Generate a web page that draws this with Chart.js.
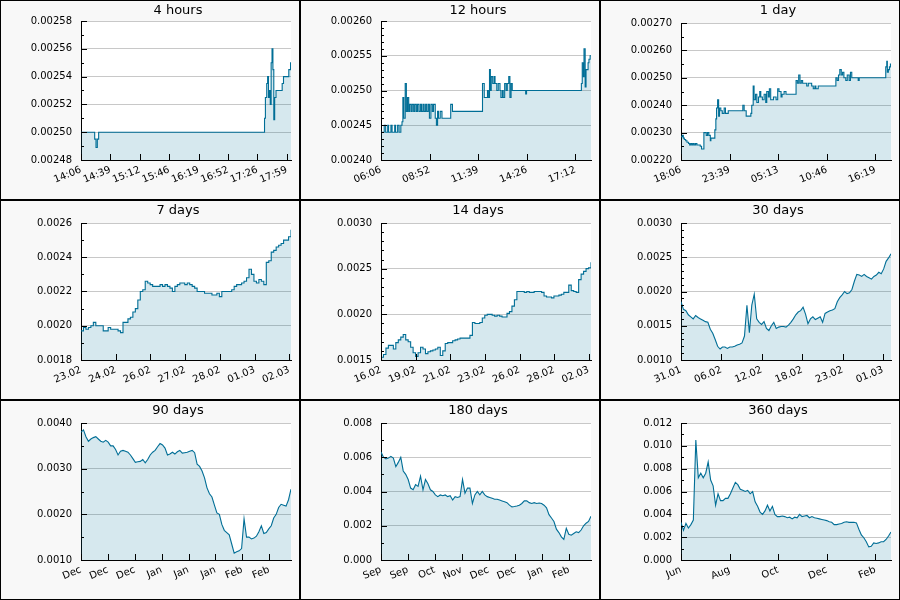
<!DOCTYPE html>
<html>
<head>
<meta charset="utf-8">
<script src="https://cdn.jsdelivr.net/npm/chart.js@4.4.1/dist/chart.umd.min.js"></script>
<style>
  body { margin: 0; background: #fff; }
  #grid { position: relative; width: 900px; height: 600px; }
  .cell { position: absolute; width: 300px; height: 200px; box-sizing: border-box; border: 1px solid #000; background: #f8f8f8; }
  .cell canvas { display: block; }
</style>
</head>
<body>
<div id="grid"></div>
<script>
// ---- 4 hours (minutes since 14:06, change points) ----
const h4Times  = [0, 15.5, 17, 18.5, 20, 208, 209, 210.5, 211.5, 212.5, 213.5, 214.5, 215.5, 216.5, 217.5, 218.5, 219.5, 221, 228, 229.5, 235.5, 237.5, 238];
const h4Values = [0.00250, 0.002495, 0.002489, 0.002495, 0.00250, 0.00251, 0.002525, 0.002535, 0.00254, 0.002525, 0.00253, 0.00252, 0.00255, 0.00256, 0.002545, 0.002509, 0.002525, 0.00253, 0.002535, 0.00254, 0.002545, 0.00255, 0.00255];
const h4XLabels = ['14:06', '14:39', '15:12', '15:46', '16:19', '16:52', '17:26', '17:59'];
const h4YLabels = ['0.00248', '0.00250', '0.00252', '0.00254', '0.00256', '0.00258'];

// ---- 12 hours (minutes since 06:06) ----
const h12Times  = [0, 11, 16, 23, 26, 34, 38, 47, 50, 57, 62, 68, 72, 75, 78, 83, 87, 91, 95, 98, 103, 107, 112, 116, 121, 125, 130, 135, 139, 144, 148, 153, 157, 162, 166, 171, 176, 180, 186, 190, 194, 197, 203, 209, 239, 245, 348, 354, 365, 368, 372, 375, 378, 383, 388, 391, 397, 402, 408, 411, 416, 419, 424, 429, 433, 438, 442, 446, 450, 496, 499, 687, 690, 694, 696, 700, 703, 707, 710, 713, 717, 720];
const h12Values = [0.00244, 0.00245, 0.00244, 0.00245, 0.00244, 0.00245, 0.00244, 0.00245, 0.00244, 0.00245, 0.00244, 0.00245, 0.002455, 0.00249, 0.00246, 0.00251, 0.00247, 0.00249, 0.00247, 0.00248, 0.00247, 0.00248, 0.00247, 0.00248, 0.00247, 0.00248, 0.00247, 0.00248, 0.00247, 0.00248, 0.00247, 0.00248, 0.00247, 0.00248, 0.00246, 0.00248, 0.00247, 0.00248, 0.00246, 0.00245, 0.00247, 0.00246, 0.00247, 0.00246, 0.00248, 0.00247, 0.00251, 0.00249, 0.00250, 0.00249, 0.00253, 0.00250, 0.00252, 0.00251, 0.00252, 0.00251, 0.00250, 0.00251, 0.00250, 0.00249, 0.00250, 0.00249, 0.00251, 0.00250, 0.00251, 0.00252, 0.00249, 0.00251, 0.00250, 0.002495, 0.00250, 0.00251, 0.00254, 0.00252, 0.00256, 0.002505, 0.00253, 0.00253, 0.00254, 0.002545, 0.00255, 0.00255];
const h12XLabels = ['06:06', '08:52', '11:39', '14:26', '17:12'];
const h12YLabels = ['0.00240', '0.00245', '0.00250', '0.00255', '0.00260'];

// ---- 1 day (minutes since 18:06) ----
const d1Times  = [0, 9, 16, 23, 32, 41, 52, 59, 67, 75, 83, 91, 100, 109, 132, 141, 157, 173, 182, 191, 201, 205, 232, 239, 244, 251, 258, 264, 273, 283, 296, 305, 324, 424, 433, 447, 479, 485, 495, 501, 511, 520, 531, 540, 547, 558, 570, 581, 588, 599, 606, 615, 634, 652, 663, 672, 686, 693, 707, 720, 789, 798, 807, 816, 825, 834, 862, 873, 896, 907, 918, 925, 941, 1062, 1071, 1080, 1089, 1099, 1108, 1117, 1130, 1140, 1153, 1162, 1171, 1215, 1222, 1404, 1411, 1415, 1422, 1429, 1436, 1440];
const d1Values = [0.002285, 0.00229, 0.00228, 0.002275, 0.00227, 0.002265, 0.00226, 0.002255, 0.00226, 0.002255, 0.00226, 0.002255, 0.00226, 0.002255, 0.00225, 0.00224, 0.00230, 0.00229, 0.00230, 0.00229, 0.00227, 0.00228, 0.00231, 0.00235, 0.00239, 0.00242, 0.00236, 0.00239, 0.00238, 0.00237, 0.00239, 0.00237, 0.00238, 0.00240, 0.00238, 0.00236, 0.00237, 0.00240, 0.00247, 0.00242, 0.00244, 0.00241, 0.00243, 0.00245, 0.00243, 0.00242, 0.00244, 0.00241, 0.00245, 0.00243, 0.00246, 0.00242, 0.00243, 0.00242, 0.00246, 0.00245, 0.00243, 0.00244, 0.00245, 0.00244, 0.00249, 0.00248, 0.00251, 0.00248, 0.00249, 0.00248, 0.00247, 0.00248, 0.00247, 0.00246, 0.00247, 0.00246, 0.00247, 0.00250, 0.00249, 0.00251, 0.00253, 0.00251, 0.00252, 0.00250, 0.00249, 0.00251, 0.00249, 0.00252, 0.00250, 0.00249, 0.00250, 0.00254, 0.00256, 0.00252, 0.00253, 0.00254, 0.00255, 0.00255];
const d1XLabels = ['18:06', '23:39', '05:13', '10:46', '16:19'];
const d1YLabels = ['0.00220', '0.00230', '0.00240', '0.00250', '0.00260', '0.00270'];

// ---- 7 days (evenly spaced samples) ----
const d7Values = [0.00197, 0.00199, 0.00198, 0.00199, 0.00200, 0.00202, 0.00200, 0.00200, 0.00200, 0.00197, 0.00197, 0.00199, 0.00198, 0.00198, 0.00198, 0.00197, 0.00196, 0.00202, 0.00202, 0.00204, 0.00205, 0.00208, 0.00210, 0.00215, 0.00220, 0.00221, 0.00226, 0.00225, 0.00224, 0.00223, 0.00223, 0.00223, 0.00224, 0.00223, 0.00224, 0.00223, 0.00222, 0.00220, 0.00223, 0.00224, 0.00225, 0.00225, 0.00224, 0.00225, 0.00224, 0.00223, 0.00222, 0.00220, 0.00220, 0.00220, 0.00219, 0.00219, 0.00219, 0.00218, 0.00218, 0.00219, 0.00217, 0.00220, 0.00220, 0.00220, 0.00220, 0.00221, 0.00223, 0.00224, 0.00224, 0.00225, 0.00226, 0.00228, 0.00233, 0.00230, 0.00226, 0.00225, 0.00227, 0.00226, 0.00224, 0.00237, 0.00238, 0.00243, 0.00244, 0.00246, 0.00247, 0.00248, 0.00250, 0.00250, 0.00252, 0.00256];
const d7XLabels = ['23.02', '24.02', '26.02', '27.02', '28.02', '01.03', '02.03'];
const d7YLabels = ['0.0018', '0.0020', '0.0022', '0.0024', '0.0026'];

// ---- 14 days ----
const d14Values = [0.00153, 0.00156, 0.00163, 0.00166, 0.00166, 0.00162, 0.00169, 0.00172, 0.00175, 0.00178, 0.00172, 0.00170, 0.00164, 0.00158, 0.00154, 0.00158, 0.00164, 0.00162, 0.00157, 0.00159, 0.00160, 0.00161, 0.00162, 0.00164, 0.00155, 0.00160, 0.00168, 0.00169, 0.00169, 0.00171, 0.00172, 0.00173, 0.00174, 0.00174, 0.00174, 0.00174, 0.00177, 0.00191, 0.00190, 0.00190, 0.00191, 0.00196, 0.00199, 0.00200, 0.00200, 0.00199, 0.00198, 0.00199, 0.00198, 0.00197, 0.00197, 0.00201, 0.00203, 0.00209, 0.00216, 0.00225, 0.00225, 0.00225, 0.00224, 0.00225, 0.00224, 0.00224, 0.00225, 0.00225, 0.00225, 0.00224, 0.00220, 0.00219, 0.00219, 0.00218, 0.00220, 0.00220, 0.00221, 0.00222, 0.00224, 0.00224, 0.00232, 0.00226, 0.00225, 0.00224, 0.00238, 0.00244, 0.00247, 0.00250, 0.00251, 0.00257];
const d14XLabels = ['16.02', '19.02', '21.02', '23.02', '26.02', '28.02', '02.03'];
const d14YLabels = ['0.0015', '0.0020', '0.0025', '0.0030'];

// ---- 30 days ----
const d30Values = [0.00185, 0.00174, 0.00172, 0.00166, 0.00163, 0.00160, 0.00165, 0.00162, 0.00160, 0.00158, 0.00156, 0.00155, 0.00145, 0.00139, 0.00130, 0.00120, 0.00116, 0.00119, 0.00119, 0.00117, 0.00119, 0.00119, 0.00120, 0.00122, 0.00123, 0.00125, 0.00135, 0.00180, 0.00140, 0.00180, 0.00196, 0.00160, 0.00155, 0.00152, 0.00156, 0.00146, 0.00143, 0.00150, 0.00155, 0.00146, 0.00148, 0.00149, 0.00149, 0.00148, 0.00151, 0.00155, 0.00160, 0.00166, 0.00170, 0.00172, 0.00177, 0.00167, 0.00153, 0.00160, 0.00163, 0.00159, 0.00161, 0.00163, 0.00155, 0.00168, 0.00170, 0.00172, 0.00173, 0.00175, 0.00185, 0.00191, 0.00195, 0.00200, 0.00197, 0.00198, 0.00203, 0.00215, 0.00225, 0.00224, 0.00222, 0.00225, 0.00222, 0.00220, 0.00218, 0.00222, 0.00224, 0.00228, 0.00226, 0.00233, 0.00244, 0.00249, 0.00255];
const d30XLabels = ['31.01', '06.02', '12.02', '18.02', '23.02', '01.03'];
const d30YLabels = ['0.0010', '0.0015', '0.0020', '0.0025', '0.0030'];

// ---- 90 days ----
const d90Values = [0.00380, 0.00385, 0.00370, 0.00360, 0.00365, 0.00368, 0.00370, 0.00365, 0.00360, 0.00358, 0.00362, 0.00358, 0.00350, 0.00350, 0.00342, 0.00330, 0.00338, 0.00340, 0.00338, 0.00336, 0.00330, 0.00322, 0.00314, 0.00315, 0.00316, 0.00320, 0.00313, 0.00320, 0.00330, 0.00336, 0.00340, 0.00348, 0.00355, 0.00352, 0.00345, 0.00330, 0.00332, 0.00336, 0.00332, 0.00337, 0.00340, 0.00334, 0.00335, 0.00336, 0.00338, 0.00340, 0.00335, 0.00310, 0.00305, 0.00295, 0.00280, 0.00258, 0.00245, 0.00238, 0.00220, 0.00203, 0.00200, 0.00178, 0.00165, 0.00160, 0.00155, 0.00135, 0.00115, 0.00118, 0.00120, 0.00125, 0.00190, 0.00150, 0.00150, 0.00146, 0.00148, 0.00152, 0.00162, 0.00175, 0.00158, 0.00160, 0.00168, 0.00175, 0.00192, 0.00200, 0.00215, 0.00222, 0.00220, 0.00218, 0.00232, 0.00255];
const d90XLabels = ['Dec', 'Dec', 'Dec', 'Jan', 'Jan', 'Jan', 'Feb', 'Feb'];
const d90YLabels = ['0.0010', '0.0020', '0.0030', '0.0040'];

// ---- 180 days ----
const d180Values = [0.00630, 0.00600, 0.00590, 0.00595, 0.00605, 0.00595, 0.00545, 0.00570, 0.00600, 0.00520, 0.00500, 0.00470, 0.00420, 0.00410, 0.00440, 0.00430, 0.00490, 0.00410, 0.00470, 0.00445, 0.00410, 0.00400, 0.00380, 0.00370, 0.00380, 0.00375, 0.00380, 0.00370, 0.00375, 0.00350, 0.00370, 0.00365, 0.00370, 0.00470, 0.00390, 0.00420, 0.00420, 0.00330, 0.00380, 0.00400, 0.00380, 0.00400, 0.00380, 0.00370, 0.00365, 0.00360, 0.00355, 0.00355, 0.00350, 0.00345, 0.00340, 0.00335, 0.00320, 0.00310, 0.00312, 0.00315, 0.00320, 0.00330, 0.00345, 0.00345, 0.00335, 0.00330, 0.00335, 0.00330, 0.00333, 0.00330, 0.00320, 0.00305, 0.00265, 0.00245, 0.00225, 0.00180, 0.00160, 0.00135, 0.00120, 0.00185, 0.00150, 0.00145, 0.00155, 0.00165, 0.00160, 0.00175, 0.00200, 0.00215, 0.00225, 0.00255];
const d180XLabels = ['Sep', 'Sep', 'Oct', 'Nov', 'Dec', 'Dec', 'Jan', 'Feb'];
const d180YLabels = ['0.000', '0.002', '0.004', '0.006', '0.008'];

// ---- 360 days ----
const d360Values = [0.00330, 0.00260, 0.00320, 0.00280, 0.00310, 0.00350, 0.01050, 0.00720, 0.00760, 0.00720, 0.00760, 0.00860, 0.00700, 0.00650, 0.00480, 0.00580, 0.00520, 0.00520, 0.00540, 0.00540, 0.00580, 0.00630, 0.00680, 0.00660, 0.00620, 0.00610, 0.00600, 0.00610, 0.00580, 0.00600, 0.00510, 0.00470, 0.00420, 0.00400, 0.00430, 0.00480, 0.00430, 0.00470, 0.00400, 0.00380, 0.00380, 0.00385, 0.00380, 0.00370, 0.00375, 0.00360, 0.00375, 0.00370, 0.00400, 0.00380, 0.00385, 0.00390, 0.00370, 0.00380, 0.00370, 0.00365, 0.00360, 0.00355, 0.00350, 0.00345, 0.00335, 0.00330, 0.00310, 0.00310, 0.00315, 0.00320, 0.00330, 0.00335, 0.00330, 0.00330, 0.00330, 0.00325, 0.00270, 0.00220, 0.00195, 0.00160, 0.00115, 0.00120, 0.00150, 0.00145, 0.00150, 0.00160, 0.00160, 0.00180, 0.00210, 0.00245];
const d360XLabels = ['Jun', 'Aug', 'Oct', 'Dec', 'Feb'];
const d360YLabels = ['0.000', '0.002', '0.004', '0.006', '0.008', '0.010', '0.012'];

const LINE = 'rgb(0,110,150)';
const FILL = 'rgba(0,110,150,0.16)';
const FONT = '"DejaVu Sans", sans-serif';

function evenly(values, span) {
  return values.map((v, i) => ({ x: i * span / (values.length - 1), y: v }));
}
function paired(times, values) {
  return times.map((t, i) => ({ x: t, y: values[i] }));
}

const panels = [
  { title: '4 hours',  points: paired(h4Times, h4Values),   span: 238,  xStep: 33.333, xLabels: h4XLabels,  yLabels: h4YLabels,  minor: 0.00001, top: 20, stepped: true },
  { title: '12 hours', points: paired(h12Times, h12Values), span: 720,  xStep: 166.67, xLabels: h12XLabels, yLabels: h12YLabels, minor: 0.00001, top: 20, stepped: true },
  { title: '1 day',    points: paired(d1Times, d1Values),   span: 1440, xStep: 333.33, xLabels: d1XLabels,  yLabels: d1YLabels,  minor: 0.00005, top: 22, stepped: true },
  { title: '7 days',   points: evenly(d7Values, 168),       span: 168,  xStep: 27.77,  xLabels: d7XLabels,  yLabels: d7YLabels,  minor: 0.0001,  top: 22, stepped: true },
  { title: '14 days',  points: evenly(d14Values, 336),      span: 336,  xStep: 55.4,   xLabels: d14XLabels, yLabels: d14YLabels, minor: 0.0001,  top: 22, stepped: true },
  { title: '30 days',  points: evenly(d30Values, 720),      span: 720,  xStep: 138.5,  xLabels: d30XLabels, yLabels: d30YLabels, minor: 0.0001,  top: 22, stepped: false },
  { title: '90 days',  points: evenly(d90Values, 90),       span: 90,   xStep: 11.52,  xLabels: d90XLabels, yLabels: d90YLabels, minor: 0.0005,  top: 22, stepped: false },
  { title: '180 days', points: evenly(d180Values, 180),     span: 180,  xStep: 23.05,  xLabels: d180XLabels, yLabels: d180YLabels, minor: 0.001, top: 22, stepped: false },
  { title: '360 days', points: evenly(d360Values, 360),     span: 360,  xStep: 83.3,   xLabels: d360XLabels, yLabels: d360YLabels, minor: 0.001, top: 22, stepped: false }
];

// white plot area, inward tick marks and the panel title
const panelDecor = {
  id: 'panelDecor',
  beforeDraw(chart) {
    const { ctx, chartArea: a } = chart;
    ctx.save();
    ctx.fillStyle = '#fff';
    ctx.fillRect(a.left, a.top, a.right - a.left, a.bottom - a.top);
    ctx.restore();
  },
  afterDraw(chart, args, opts) {
    const { ctx, chartArea: a, scales: { x, y } } = chart;
    const majorEvery = Math.round((y.ticks[1].value - y.ticks[0].value) / opts.minor);
    const n = Math.round((y.max - y.min) / opts.minor);
    ctx.save();
    ctx.strokeStyle = '#000';
    ctx.lineWidth = 1;
    ctx.beginPath();
    for (let i = 0; i <= n; i++) {
      const py = Math.round(y.getPixelForValue(y.min + i * opts.minor)) + 0.5;
      ctx.moveTo(a.left, py);
      ctx.lineTo(a.left + (i % majorEvery === 0 ? 6 : 3), py);
    }
    x.ticks.forEach((t) => {
      const px = Math.round(x.getPixelForValue(t.value)) + 0.5;
      ctx.moveTo(px, a.bottom);
      ctx.lineTo(px, a.bottom - 6);
    });
    ctx.stroke();
    ctx.fillStyle = '#000';
    ctx.font = '13px ' + FONT;
    ctx.textAlign = 'center';
    ctx.textBaseline = 'middle';
    ctx.fillText(opts.title, 177, 10);
    ctx.restore();
  }
};

const grid = document.getElementById('grid');
panels.forEach((p, k) => {
  const cell = document.createElement('div');
  cell.className = 'cell';
  cell.style.left = (k % 3) * 300 + 'px';
  cell.style.top = Math.floor(k / 3) * 200 + 'px';
  const canvas = document.createElement('canvas');
  canvas.width = 298;
  canvas.height = 198;
  cell.appendChild(canvas);
  grid.appendChild(cell);

  new Chart(canvas.getContext('2d'), {
    type: 'line',
    data: {
      datasets: [{
        data: p.points,
        stepped: p.stepped,
        borderColor: LINE,
        borderWidth: 1.1,
        backgroundColor: FILL,
        fill: 'start',
        pointRadius: 0,
        tension: 0
      }]
    },
    options: {
      responsive: false,
      animation: false,
      events: [],
      layout: { padding: { top: p.top, right: 8, bottom: 0, left: 0 } },
      plugins: {
        legend: { display: false },
        tooltip: { enabled: false },
        panelDecor: { title: p.title, minor: p.minor }
      },
      scales: {
        x: {
          type: 'linear',
          min: 0,
          max: p.span,
          afterBuildTicks: (s) => { s.ticks = p.xLabels.map((_, i) => ({ value: i * p.xStep })); },
          afterFit: (s) => { s.height = 39; },
          grid: { display: false, drawTicks: false },
          border: { display: true, color: '#000', width: 1 },
          ticks: {
            autoSkip: false,
            minRotation: 22,
            maxRotation: 22,
            padding: 4,
            color: '#000',
            font: { family: FONT, size: 10 },
            callback: (v, i) => p.xLabels[i]
          }
        },
        y: {
          type: 'linear',
          min: parseFloat(p.yLabels[0]),
          max: parseFloat(p.yLabels[p.yLabels.length - 1]),
          afterBuildTicks: (s) => { s.ticks = p.yLabels.map((t) => ({ value: parseFloat(t) })); },
          afterFit: (s) => { s.width = 80; },
          grid: { color: '#c8c8c8', drawTicks: false },
          border: { display: true, color: '#000', width: 1 },
          ticks: {
            autoSkip: false,
            padding: 9,
            color: '#000',
            font: { family: FONT, size: 10 },
            callback: (v, i) => p.yLabels[i]
          }
        }
      }
    },
    plugins: [panelDecor]
  });
});
</script>
</body>
</html>
